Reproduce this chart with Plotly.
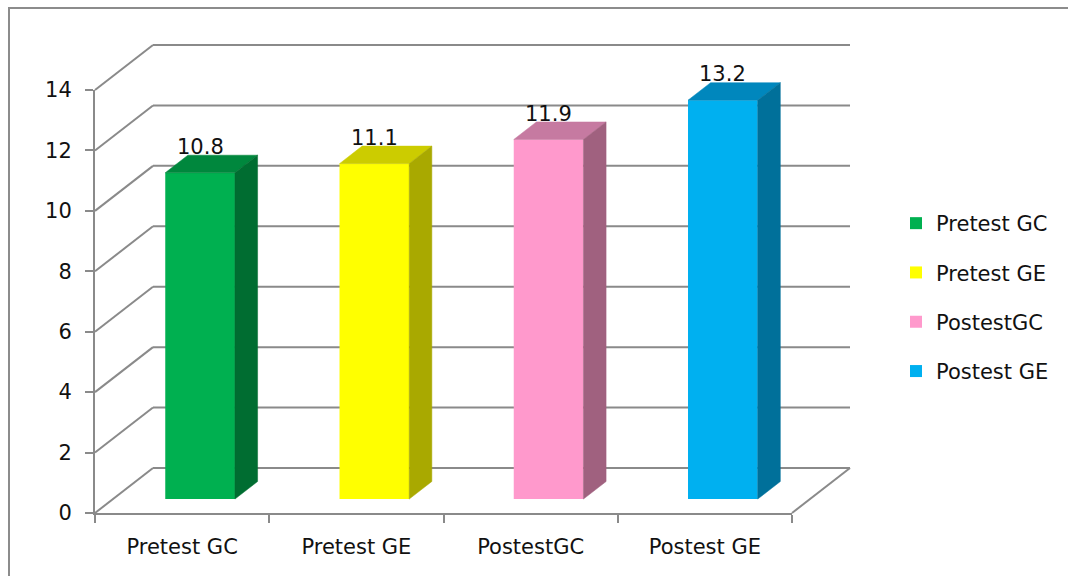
import plotly.graph_objects as go

# ---- data -------------------------------------------------------------
categories = ["Pretest GC", "Pretest GE", "PostestGC", "Postest GE"]
scores = [10.8, 11.1, 11.9, 13.2]
y_ticks = [0, 2, 4, 6, 8, 10, 12, 14]

# ---- styling ----------------------------------------------------------
front_colors = ["#00B050", "#FFFF00", "#FF99CC", "#00B0F0"]
top_colors = ["#00873D", "#CCCC00", "#C67AA1", "#0087BD"]
side_colors = ["#006D31", "#A9A900", "#A0617F", "#00709A"]
GRID = "#8A8A8A"
TEXT = "#111111"
FONT = "DejaVu Sans"
FSIZE = 21

W, H = 1068, 576
# pixel frame of the front (value) axis and category axis
AX_LEFT, AX_RIGHT = 95, 792
AX_BOTTOM, AX_TOP = 513, 90
Y_MAX = 14
PX_PER_CAT = (AX_RIGHT - AX_LEFT) / len(categories)
PX_PER_UNIT = (AX_BOTTOM - AX_TOP) / Y_MAX

# oblique depth of the 3-D box, expressed in data units
DEPTH_DX = 58 / PX_PER_CAT
DEPTH_DY = 45 / PX_PER_UNIT
BAR_FRONT = 0.31      # depth fraction of bar front face
BAR_DEPTH = 0.39      # depth fraction occupied by a bar
BAR_WIDTH = 0.40      # fraction of a category slot

# data range of the full-page drawing axes
x_range = [-AX_LEFT / PX_PER_CAT, (W - AX_LEFT) / PX_PER_CAT]
y_range = [-(H - AX_BOTTOM) / PX_PER_UNIT, AX_BOTTOM / PX_PER_UNIT]

fig = go.Figure()

# ---- walls and floor grid (behind the bars) ---------------------------
shapes = []
n = len(categories)
for v in y_ticks:
    # back wall line
    shapes.append(dict(type="line", xref="x", yref="y", layer="below",
                       x0=DEPTH_DX, y0=v + DEPTH_DY, x1=n + DEPTH_DX, y1=v + DEPTH_DY,
                       line=dict(color=GRID, width=2)))
    # side wall oblique
    shapes.append(dict(type="line", xref="x", yref="y", layer="below",
                       x0=0, y0=v, x1=DEPTH_DX, y1=v + DEPTH_DY,
                       line=dict(color=GRID, width=2)))
# right edge of the floor
shapes.append(dict(type="line", xref="x", yref="y", layer="below",
                   x0=n, y0=0, x1=n + DEPTH_DX, y1=DEPTH_DY,
                   line=dict(color=GRID, width=2)))
# outer chart border
shapes.append(dict(type="rect", xref="paper", yref="paper", layer="below",
                   x0=9 / W, y0=-0.02, x1=1.02, y1=1 - 8 / H,
                   line=dict(color="#8C8C8C", width=2), fillcolor="rgba(0,0,0,0)"))

# ---- bars -------------------------------------------------------------
fx = BAR_FRONT * DEPTH_DX
fy = BAR_FRONT * DEPTH_DY
ddx = BAR_DEPTH * DEPTH_DX
ddy = BAR_DEPTH * DEPTH_DY
half = BAR_WIDTH / 2

annotations = []
for i, (cat, v) in enumerate(zip(categories, scores)):
    cx = i + 0.5 + fx
    x0, x1 = cx - half, cx + half
    fig.add_trace(go.Bar(
        x=[cx], y=[v], base=fy, width=BAR_WIDTH,
        marker=dict(color=front_colors[i], line=dict(width=0)),
        name=cat, legendgroup=cat, showlegend=True, hoverinfo="skip",
    ))
    top = v + fy
    # top face
    fig.add_trace(go.Scatter(
        x=[x0, x1, x1 + ddx, x0 + ddx, x0],
        y=[top, top, top + ddy, top + ddy, top],
        mode="lines", fill="toself", fillcolor=top_colors[i],
        line=dict(color=top_colors[i], width=0.5),
        showlegend=False, hoverinfo="skip", legendgroup=cat,
    ))
    # side face
    fig.add_trace(go.Scatter(
        x=[x1, x1, x1 + ddx, x1 + ddx, x1],
        y=[fy, top, top + ddy, fy + ddy, fy],
        mode="lines", fill="toself", fillcolor=side_colors[i],
        line=dict(color=side_colors[i], width=0.5),
        showlegend=False, hoverinfo="skip", legendgroup=cat,
    ))
    annotations.append(dict(
        x=cx, y=top, xref="x", yref="y", text=f"{v:.1f}",
        showarrow=False, yanchor="middle", yshift=26,
        font=dict(family=FONT, size=FSIZE, color=TEXT),
    ))

# ---- front axes -------------------------------------------------------
fig.add_trace(go.Scatter(x=[None], y=[None], xaxis="x2", yaxis="y2",
                         showlegend=False, hoverinfo="skip"))

fig.update_layout(
    width=W, height=H,
    margin=dict(l=0, r=0, t=0, b=0, autoexpand=False),
    paper_bgcolor="white", plot_bgcolor="rgba(0,0,0,0)",
    barmode="overlay",
    xaxis=dict(range=x_range, domain=[0, 1], visible=False, fixedrange=True,
               automargin=False),
    yaxis=dict(range=y_range, domain=[0, 1], visible=False, fixedrange=True,
               automargin=False),
    xaxis2=dict(
        domain=[AX_LEFT / W, AX_RIGHT / W], range=[0, n], anchor="y2",
        showline=True, linecolor=GRID, linewidth=2, showgrid=False, zeroline=False,
        tickvals=[i + 0.5 for i in range(n)], ticktext=categories, ticks="",
        ticklabelstandoff=14, automargin=False,
        minor=dict(tickvals=list(range(n + 1)), ticks="outside", ticklen=8,
                   tickcolor=GRID, tickwidth=2, showgrid=False),
        tickfont=dict(family=FONT, size=FSIZE, color=TEXT), fixedrange=True,
    ),
    yaxis2=dict(
        domain=[(H - AX_BOTTOM) / H, (H - AX_TOP) / H], range=[0, Y_MAX], anchor="x2",
        showline=True, linecolor=GRID, linewidth=2, showgrid=False, zeroline=False,
        tickvals=y_ticks, ticks="outside", ticklen=8, tickcolor=GRID, tickwidth=2,
        ticklabelstandoff=9, automargin=False,
        tickfont=dict(family=FONT, size=FSIZE, color=TEXT), fixedrange=True,
    ),
    legend=dict(
        x=896 / W, y=1 - 203 / H, xanchor="left", yanchor="top",
        font=dict(family=FONT, size=FSIZE, color=TEXT),
        tracegroupgap=19, bgcolor="rgba(0,0,0,0)",
    ),
    shapes=shapes,
    annotations=annotations,
    showlegend=True,
)

fig.write_html("out.html")
